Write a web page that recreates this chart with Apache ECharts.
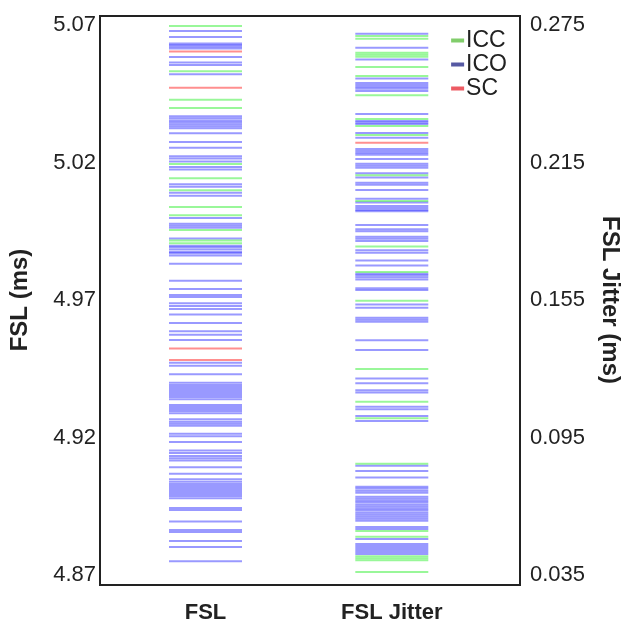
<!DOCTYPE html>
<html>
<head>
<meta charset="utf-8">
<script src="https://cdn.jsdelivr.net/npm/echarts@6/dist/echarts.min.js"></script>
<style>
  html, body { margin: 0; padding: 0; background: #fff; }
  #chart { width: 630px; height: 630px; }
</style>
</head>
<body>
<div id="chart"></div>
<script>
// column labels and where each column sits on the hidden x scale (0..20)
const columns = ['FSL', 'FSL Jitter'];
const columnPos = [5, 14];

// FSL values (ms), left axis
const fslICC = [5.0696, 5.0532, 5.0428, 5.0398, 5.0195, 5.0143, 5.0099, 5.0038, 5.0008, 4.9955, 4.9916, 4.9906];
const fslSC = [5.0604, 5.0472, 4.9524, 4.9482];
const fslICO = [
  5.0678, 5.0656, 5.0633, 5.0627, 5.0621, 5.0615, 5.0584, 5.0564, 5.0555, 5.0521,
  5.0368, 5.0361, 5.0353, 5.0346, 5.0339, 5.0332, 5.0325, 5.0306, 5.0275, 5.0254,
  5.0223, 5.0215, 5.0204, 5.0184, 5.0175, 5.0121, 5.0112, 5.0090, 5.0079, 4.9998,
  4.9977, 4.9970, 4.9963, 4.9924, 4.9897, 4.9892, 4.9884, 4.9875, 4.9870, 4.9862,
  4.9832, 4.9770, 4.9740, 4.9718, 4.9711, 4.9688, 4.9678, 4.9667, 4.9647, 4.9616,
  4.9586, 4.9574, 4.9555, 4.9472, 4.9461, 4.9430, 4.9399, 4.9391, 4.9384, 4.9376,
  4.9369, 4.9362, 4.9355, 4.9347, 4.9339, 4.9318, 4.9311, 4.9304, 4.9296, 4.9288,
  4.9266, 4.9257, 4.9250, 4.9243, 4.9214, 4.9205, 4.9184, 4.9153, 4.9144, 4.9133,
  4.9125, 4.9116, 4.9092, 4.9068, 4.9048, 4.9039, 4.9031, 4.9024, 4.9016, 4.9009,
  4.9002, 4.8995, 4.8987, 4.8979, 4.8944, 4.8936, 4.8895, 4.8864, 4.8856, 4.8824,
  4.8802, 4.8750
];

// FSL Jitter values (ms), right axis
const jitICC = [
  0.2702, 0.2690, 0.2629, 0.2620, 0.2612, 0.2567, 0.2527, 0.2443, 0.2340, 0.2309,
  0.2270, 0.2094, 0.1982, 0.1784, 0.1672, 0.1547, 0.1249, 0.1106, 0.1034, 0.0836,
  0.0542, 0.0517, 0.0432, 0.0423, 0.0414, 0.0363
];
const jitSC = [0.2236];
const jitICO = [
  0.2712, 0.2651, 0.2599, 0.2517, 0.2497, 0.2488, 0.2479, 0.2472, 0.2462, 0.2362,
  0.2331, 0.2325, 0.2318, 0.2279, 0.2258, 0.2209, 0.2200, 0.2191, 0.2184, 0.2165,
  0.2145, 0.2136, 0.2127, 0.2103, 0.2085, 0.2062, 0.2053, 0.2030, 0.1992, 0.1975,
  0.1960, 0.1951, 0.1943, 0.1937, 0.1877, 0.1859, 0.1850, 0.1826, 0.1817, 0.1807,
  0.1767, 0.1756, 0.1722, 0.1701, 0.1665, 0.1658, 0.1649, 0.1640, 0.1601, 0.1594,
  0.1530, 0.1516, 0.1473, 0.1464, 0.1455, 0.1374, 0.1332, 0.1207, 0.1187, 0.1156,
  0.1146, 0.1084, 0.1073, 0.1044, 0.1022, 0.0827, 0.0804, 0.0776, 0.0735, 0.0727,
  0.0718, 0.0709, 0.0692, 0.0683, 0.0674, 0.0666, 0.0657, 0.0648, 0.0639, 0.0631,
  0.0622, 0.0613, 0.0604, 0.0596, 0.0587, 0.0559, 0.0551, 0.0507, 0.0485, 0.0477,
  0.0468, 0.0459, 0.0450, 0.0442
];

// axis ticks
const fslTicks = [4.87, 4.92, 4.97, 5.02, 5.07];
const jitTicks = [0.035, 0.095, 0.155, 0.215, 0.275];

const FONT = 'Liberation Sans, Arial, sans-serif';
const colors = { ICC: 'rgba(0,235,0,0.5)', ICO: 'rgba(0,0,255,0.5)', SC: 'rgba(255,0,0,0.55)' };

const chart = echarts.init(document.getElementById('chart'), null, { renderer: 'canvas' });

function lines(name, vals, col, axis) {
  return {
    name: name,
    type: 'scatter',
    yAxisIndex: axis,
    symbol: 'rect',
    symbolSize: [73, 2],
    silent: true,
    itemStyle: { color: colors[name] },
    data: vals.map(v => [columnPos[col], v])
  };
}

chart.setOption({
  animation: false,
  grid: { left: 100, right: 110, top: 25, bottom: 55 },
  legend: {
    orient: 'vertical',
    right: 118,
    top: 24,
    align: 'left',
    itemWidth: 13,
    itemHeight: 4,
    itemGap: 1,
    icon: 'rect',
    textStyle: { fontFamily: FONT, fontSize: 23, color: '#222', padding: [0, 0, 0, -3] },
    data: [
      { name: 'ICC', itemStyle: { color: '#62c146' } },
      { name: 'ICO', itemStyle: { color: '#2c2f8c' } },
      { name: 'SC', itemStyle: { color: '#e8323c' } }
    ]
  },
  xAxis: {
    type: 'value',
    min: 0,
    max: 20,
    interval: 1,
    axisLine: { show: false },
    axisTick: { show: false },
    splitLine: { show: false },
    axisLabel: {
      margin: 27,
      fontFamily: FONT,
      fontSize: 22,
      fontWeight: 'bold',
      color: '#222',
      formatter: v => {
        const i = columnPos.indexOf(Math.round(v));
        return (i >= 0 && Math.abs(v - columnPos[i]) < 1e-6) ? columns[i] : '';
      }
    }
  },
  yAxis: [
    {
      type: 'value',
      min: fslTicks[0],
      max: fslTicks[fslTicks.length - 1],
      interval: 0.05,
      name: 'FSL (ms)',
      nameLocation: 'middle',
      nameGap: 70,
      nameRotate: 90,
      nameTextStyle: { fontFamily: FONT, fontSize: 24, fontWeight: 'bold', color: '#222' },
      axisLine: { show: false },
      axisTick: { show: false },
      splitLine: { show: false },
      axisLabel: { margin: 6, fontFamily: FONT, fontSize: 22, color: '#222', formatter: v => v.toFixed(2) }
    },
    {
      type: 'value',
      position: 'right',
      min: jitTicks[0],
      max: jitTicks[jitTicks.length - 1],
      interval: 0.06,
      name: 'FSL Jitter (ms)',
      nameLocation: 'middle',
      nameGap: 82,
      nameRotate: -90,
      nameTextStyle: { fontFamily: FONT, fontSize: 24, fontWeight: 'bold', color: '#222' },
      axisLine: { show: false },
      axisTick: { show: false },
      splitLine: { show: false },
      axisLabel: { margin: 14, fontFamily: FONT, fontSize: 22, color: '#222', formatter: v => v.toFixed(3) }
    }
  ],
  graphic: [{
    type: 'rect',
    silent: true,
    shape: { x: 100, y: 16, width: 420, height: 569 },
    style: { fill: 'none', stroke: '#222', lineWidth: 2 }
  }],
  series: [
    lines('ICO', fslICO, 0, 0),
    lines('ICC', fslICC, 0, 0),
    lines('SC', fslSC, 0, 0),
    lines('ICO', jitICO, 1, 1),
    lines('ICC', jitICC, 1, 1),
    lines('SC', jitSC, 1, 1)
  ]
});
</script>
</body>
</html>
